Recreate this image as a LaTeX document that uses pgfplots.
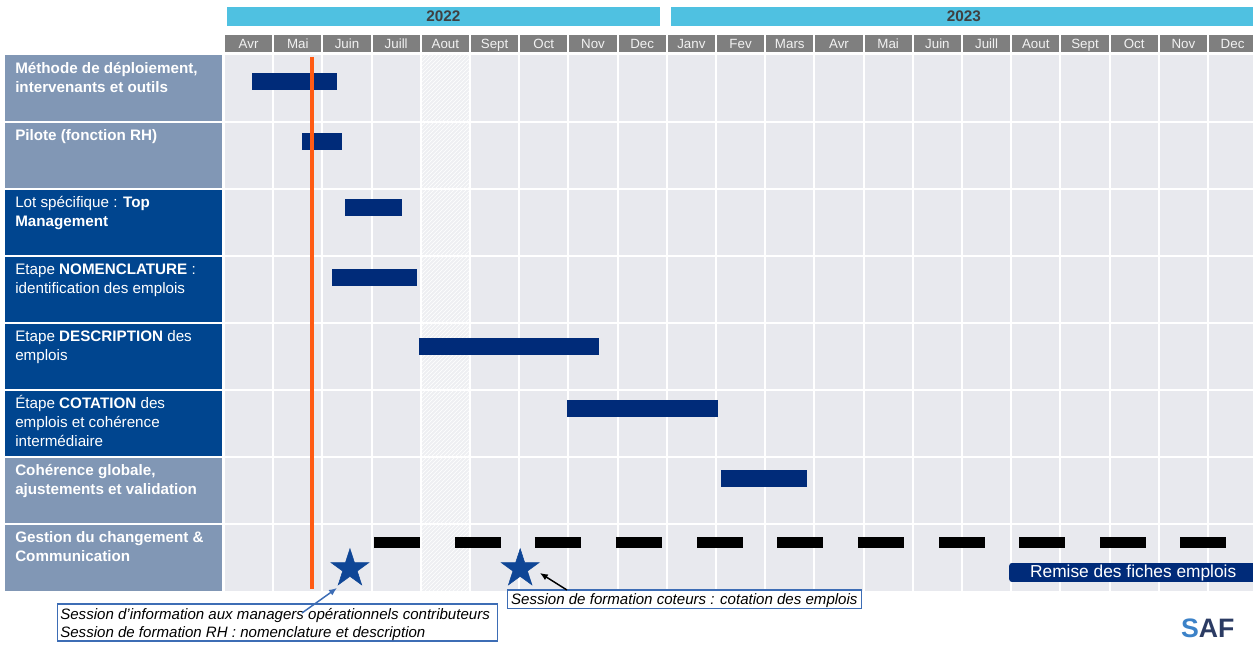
\documentclass[border=0pt]{standalone}
\usepackage{fontspec}
\setmainfont{Liberation Sans}
\usepackage{pgfplots}
\pgfplotsset{compat=1.18}
\usetikzlibrary{patterns,arrows.meta}

\definecolor{yearcyan}{HTML}{4FC1E1}
\definecolor{yeartext}{HTML}{404040}
\definecolor{monthgray}{HTML}{7F7F7F}
\definecolor{lightlab}{HTML}{8197B5}
\definecolor{darklab}{HTML}{00458F}
\definecolor{gridbg}{HTML}{E8E9EE}
\definecolor{hatchbg}{HTML}{EEEFF2}
\definecolor{barblue}{HTML}{002B79}
\definecolor{starblue}{HTML}{0F4696}
\definecolor{todayline}{HTML}{FF5B14}
\definecolor{annoblue}{HTML}{3D6DB5}
\definecolor{logoS}{HTML}{3C82C8}
\definecolor{logotext}{HTML}{2B3B63}

% filled five-pointed star
\pgfdeclareplotmark{fivestar}{%
  \pgfpathmoveto{\pgfpointpolar{90}{\pgfplotmarksize}}%
  \pgfpathlineto{\pgfpointpolar{126}{0.382\pgfplotmarksize}}%
  \pgfpathlineto{\pgfpointpolar{162}{\pgfplotmarksize}}%
  \pgfpathlineto{\pgfpointpolar{198}{0.382\pgfplotmarksize}}%
  \pgfpathlineto{\pgfpointpolar{234}{\pgfplotmarksize}}%
  \pgfpathlineto{\pgfpointpolar{270}{0.382\pgfplotmarksize}}%
  \pgfpathlineto{\pgfpointpolar{306}{\pgfplotmarksize}}%
  \pgfpathlineto{\pgfpointpolar{342}{0.382\pgfplotmarksize}}%
  \pgfpathlineto{\pgfpointpolar{18}{\pgfplotmarksize}}%
  \pgfpathlineto{\pgfpointpolar{54}{0.382\pgfplotmarksize}}%
  \pgfpathclose
  \pgfusepathqfillstroke
}

\tikzset{
  monthlbl/.style={anchor=base, inner sep=0pt, text=white!95!black, font=\fontsize{10}{10}\selectfont},
  rowlbl/.style={anchor=north west, inner sep=0pt, align=left, text=white,
    font=\fontsize{11.4}{14.25}\selectfont},
}

\begin{document}
\begin{tikzpicture}
\begin{axis}[
  scale only axis, width=939.75pt, height=483pt,
  xmin=-4.553, xmax=20.915, ymin=-0.828, ymax=8.784,
  y dir=reverse, axis lines=none, clip=false,
]
% years
\fill[yearcyan] (0.06,-0.724) rectangle (8.86,-0.44);
\fill[yearcyan] (9.09,-0.724) rectangle (21.5,-0.44);
\node[text=yeartext, font=\fontsize{11.5}{12}\selectfont\bfseries] at (4.46,-0.582) {2022};
\node[text=yeartext, font=\fontsize{11.5}{12}\selectfont\bfseries] at (15.04,-0.582) {2023};

% months
\foreach \i/\m in {0/Avr,1/Mai,2/Juin,3/Juill,4/Aout,5/Sept,6/Oct,7/Nov,8/Dec,
  9/Janv,10/Fev,11/Mars,12/Avr,13/Mai,14/Juin,15/Juill,16/Aout,17/Sept,18/Oct,19/Nov,20/Dec}{
  \edef\tmp{\noexpand\fill[monthgray] ({\i+0.02},-0.306) rectangle ({\i+0.98},-0.052);
    \noexpand\node[monthlbl] at ({\i+0.5},-0.11) {\m};}\tmp
}

% grid area
\fill[gridbg] (0.02,0) rectangle (21.5,8);
\fill[hatchbg] (4,0) rectangle (5,8);
\fill[pattern=north east lines, pattern color=white] (4,0) rectangle (5,8);

% label column
\fill[lightlab] (-4.45,0) rectangle (-0.04,2);
\fill[darklab] (-4.45,2) rectangle (-0.04,6);
\fill[lightlab] (-4.45,6) rectangle (-0.04,8);

\pgfplotsinvokeforeach{1,...,20}{\draw[white, line width=1.5pt] (#1,0) -- (#1,8);}
\pgfplotsinvokeforeach{1,...,7}{\draw[white, line width=1.5pt] (-4.6,#1) -- (21.5,#1);}

% row labels
\node[rowlbl] at (-4.248,0.07) {\strut\textbf{Méthode de déploiement,}\\\textbf{intervenants et outils}};
\node[rowlbl] at (-4.248,1.07) {\strut\textbf{Pilote (fonction RH)}};
\node[rowlbl] at (-4.248,2.07) {\strut Lot spécifique : \textbf{Top}\\\textbf{Management}};
\node[rowlbl] at (-4.248,3.07) {\strut Etape \textbf{NOMENCLATURE} :\\identification des emplois};
\node[rowlbl] at (-4.248,4.07) {\strut Etape \textbf{DESCRIPTION} des\\emplois};
\node[rowlbl] at (-4.248,5.07) {\strut Étape \textbf{COTATION} des\\emplois et cohérence\\intermédiaire};
\node[rowlbl] at (-4.248,6.07) {\strut\textbf{Cohérence globale,}\\\textbf{ajustements et validation}};
\node[rowlbl] at (-4.248,7.07) {\strut\textbf{Gestion du changement \&}\\\textbf{Communication}};

% task bars (months since April 2022)
\addplot[barblue, line width=12.75pt, unbounded coords=jump] coordinates {
  (0.57,0.39) (2.30,0.39) (nan,nan)
  (1.59,1.29) (2.40,1.29) (nan,nan)
  (2.46,2.27) (3.62,2.27) (nan,nan)
  (2.20,3.31) (3.92,3.31) (nan,nan)
  (3.96,4.34) (7.62,4.34) (nan,nan)
  (6.97,5.27) (10.04,5.27) (nan,nan)
  (10.10,6.32) (11.85,6.32)
};

% communication dashes
\addplot[black, line width=8.25pt, unbounded coords=jump] coordinates {
  (3.049,7.27) (3.984,7.27) (nan,nan)
  (4.695,7.27) (5.630,7.27) (nan,nan)
  (6.321,7.27) (7.256,7.27) (nan,nan)
  (7.967,7.27) (8.902,7.27) (nan,nan)
  (9.614,7.27) (10.549,7.27) (nan,nan)
  (11.240,7.27) (12.175,7.27) (nan,nan)
  (12.886,7.27) (13.821,7.27) (nan,nan)
  (14.533,7.27) (15.467,7.27) (nan,nan)
  (16.159,7.27) (17.094,7.27) (nan,nan)
  (17.805,7.27) (18.740,7.27) (nan,nan)
  (19.431,7.27) (20.366,7.27)
};

% today line
\addplot[todayline, line width=3pt] coordinates {(1.79,0.02) (1.79,7.97)};

% sessions
\addplot[only marks, mark=fivestar, mark size=15pt, draw=starblue, fill=starblue]
  coordinates {(2.56,7.66) (6.02,7.66)};

% deliverable
\fill[barblue, rounded corners=2pt] (15.96,7.575) rectangle (21.5,7.858);
\node[text=white, font=\fontsize{13}{13}\selectfont] at (18.48,7.717) {Remise des fiches emplois};

% annotations
\draw[annoblue, fill=white, line width=0.8pt] (-3.39,8.187) rectangle (5.55,8.739);
\node[anchor=north west, inner sep=0pt, align=left, font=\itshape\fontsize{11.3}{13.5}\selectfont]
  at (-3.333,8.225) {\strut Session d’information aux managers opérationnels contributeurs\\Session de formation RH : nomenclature et description};
\draw[annoblue, line width=1.1pt, -{Latex[length=6pt,width=5pt]}] (1.585,8.321) -- (2.297,7.948);

\draw[annoblue, fill=white, line width=0.8pt] (5.77,7.978) rectangle (12.95,8.26);
\node[anchor=base west, inner sep=0pt, font=\itshape\fontsize{11.3}{12}\selectfont]
  at (5.83,8.19) {Session de formation coteurs : cotation des emplois};
\draw[black, line width=1.1pt, -{Latex[length=6pt,width=5pt]}] (6.97,7.978) -- (6.42,7.724);

% logo
\node[anchor=base west, inner sep=0pt, font=\fontsize{20}{20}\selectfont\bfseries]
  at (19.45,8.69) {\textcolor{logoS}{S}\textcolor{logotext}{AF}};
\end{axis}
\pgfresetboundingbox
\path[use as bounding box] (current axis.south west) rectangle (current axis.north east);
\end{tikzpicture}
\end{document}
